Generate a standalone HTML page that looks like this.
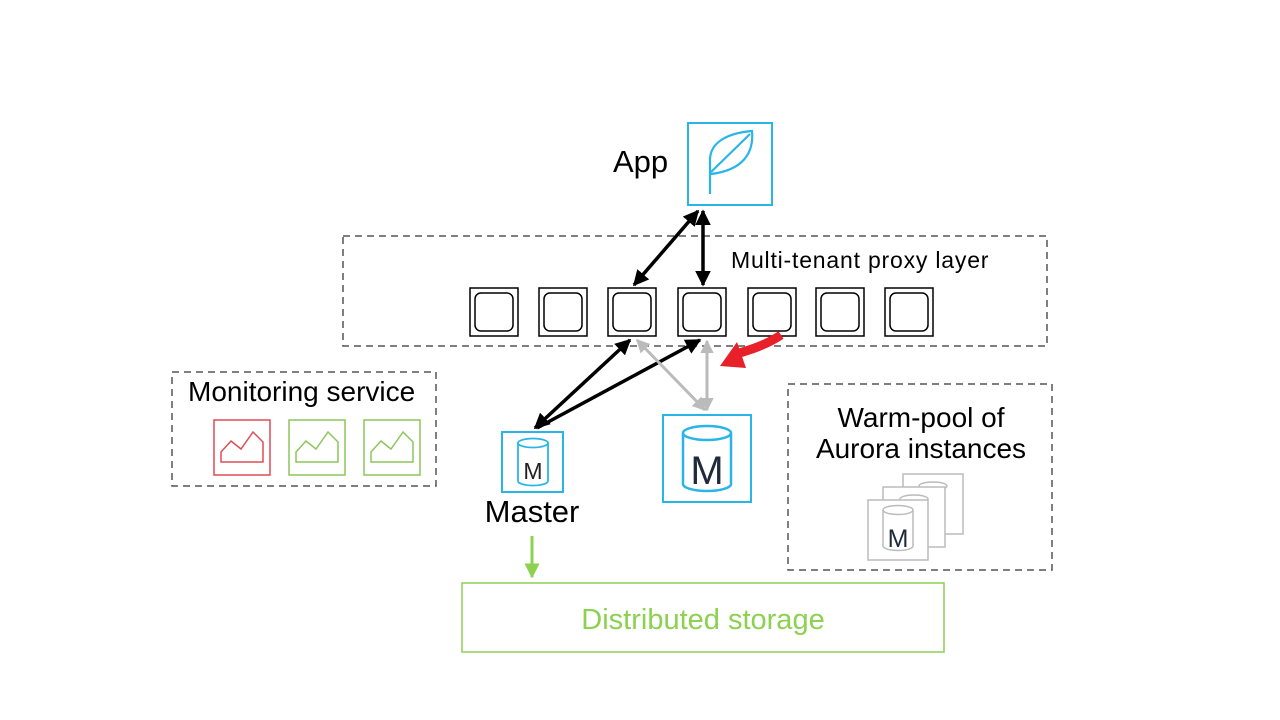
<!DOCTYPE html>
<html><head><meta charset="utf-8"><style>html,body{margin:0;padding:0;background:#fff;}svg{display:block}</style></head>
<body>
<svg width="1280" height="720" viewBox="0 0 1280 720" xmlns="http://www.w3.org/2000/svg" font-family="Liberation Sans, Arial, sans-serif">
<defs>
<marker id="ab" viewBox="0 0 10 10" refX="9" refY="5" markerWidth="4.5" markerHeight="4.5" orient="auto-start-reverse"><path d="M0,0 L10,5 L0,10 z" fill="#000"/></marker>
<marker id="ag" viewBox="0 0 10 10" refX="9" refY="5" markerWidth="4.5" markerHeight="4.5" orient="auto-start-reverse"><path d="M0,0 L10,5 L0,10 z" fill="#bbb"/></marker>
<marker id="agr" viewBox="0 0 10 10" refX="9" refY="5" markerWidth="5" markerHeight="5" orient="auto"><path d="M0,0 L10,5 L0,10 z" fill="#8cd150"/></marker>
</defs>
<rect width="1280" height="720" fill="#fff"/>
<!-- App -->
<text x="613" y="172" font-size="31" fill="#000">App</text>
<rect x="688" y="123" width="84" height="82" fill="none" stroke="#29b6e6" stroke-width="2"/>
<path d="M710,194 L710,160 C710,142 728,133 752,131 C754,152 744,170 711,174 M711,172 L750,134" fill="none" stroke="#29b6e6" stroke-width="2.2"/>
<!-- proxy layer -->
<rect x="343" y="236" width="704" height="110" fill="none" stroke="#555" stroke-width="1.5" stroke-dasharray="7,5"/>
<text x="731" y="268" font-size="23" letter-spacing="0.8" fill="#000">Multi-tenant proxy layer</text>
<g fill="none" stroke="#000" stroke-width="1.5">
<rect x="470" y="288" width="48" height="48"/><rect x="475" y="293" width="38" height="38" rx="6"/>
<rect x="539" y="288" width="48" height="48"/><rect x="544" y="293" width="38" height="38" rx="6"/>
<rect x="608" y="288" width="48" height="48"/><rect x="613" y="293" width="38" height="38" rx="6"/>
<rect x="678" y="288" width="48" height="48"/><rect x="683" y="293" width="38" height="38" rx="6"/>
<rect x="748" y="288" width="48" height="48"/><rect x="753" y="293" width="38" height="38" rx="6"/>
<rect x="816" y="288" width="48" height="48"/><rect x="821" y="293" width="38" height="38" rx="6"/>
<rect x="885" y="288" width="48" height="48"/><rect x="890" y="293" width="38" height="38" rx="6"/>
</g>
<!-- arrows -->
<g stroke="#000" stroke-width="3.5" fill="none">
<line x1="698" y1="211" x2="634" y2="285" marker-start="url(#ab)" marker-end="url(#ab)"/>
<line x1="703" y1="211" x2="703" y2="285" marker-start="url(#ab)" marker-end="url(#ab)"/>
<line x1="535" y1="428" x2="630" y2="340" marker-start="url(#ab)" marker-end="url(#ab)"/>
<line x1="537" y1="428" x2="700" y2="340" marker-end="url(#ab)"/>
</g>
<g stroke="#bbb" stroke-width="3" fill="none">
<line x1="705" y1="410" x2="637" y2="340" marker-start="url(#ag)" marker-end="url(#ag)"/>
<line x1="707" y1="410" x2="707" y2="341" marker-start="url(#ag)" marker-end="url(#ag)"/>
</g>
<path d="M781,335 C766,345 750,350 736,354" stroke="#e8202a" stroke-width="9" fill="none"/>
<path d="M720,366 L737,342 L746,368 z" fill="#e8202a"/>
<!-- master -->
<rect x="502" y="432" width="61" height="60" fill="none" stroke="#29b6e6" stroke-width="2"/>
<g fill="none" stroke="#29b6e6" stroke-width="1.8"><ellipse cx="533" cy="443" rx="15" ry="4.5"/><path d="M518,443 V481 A15,4.5 0 0 0 548,481 V443"/></g>
<text x="533" y="479" font-size="23" text-anchor="middle" fill="#222">M</text>
<text x="532" y="522" font-size="31" text-anchor="middle" fill="#000">Master</text>
<!-- big M -->
<rect x="663" y="415" width="88" height="87" fill="none" stroke="#29b6e6" stroke-width="2"/>
<g fill="none" stroke="#29b6e6" stroke-width="2.5"><ellipse cx="707" cy="433" rx="24" ry="7"/><path d="M683,433 V484 A24,7 0 0 0 731,484 V433"/></g>
<text x="707" y="484" font-size="40" text-anchor="middle" fill="#1f2a3a">M</text>
<!-- monitoring -->
<rect x="172" y="372" width="264" height="114" fill="none" stroke="#555" stroke-width="1.5" stroke-dasharray="7,5"/>
<text x="188" y="401" font-size="28" fill="#000">Monitoring service</text>
<rect x="214" y="420" width="56" height="55" fill="none" stroke="#e04b55" stroke-width="1.5"/>
<path d="M221,462 V452 L231,441 L241,449 L253,432 L263,442 V462 Z" fill="none" stroke="#e04b55" stroke-width="1.5"/>
<rect x="289" y="420" width="56" height="55" fill="none" stroke="#8cc65a" stroke-width="1.5"/>
<path d="M296,462 V452 L306,441 L316,449 L328,432 L338,442 V462 Z" fill="none" stroke="#8cc65a" stroke-width="1.5"/>
<rect x="364" y="420" width="56" height="55" fill="none" stroke="#8cc65a" stroke-width="1.5"/>
<path d="M371,462 V452 L381,441 L391,449 L403,432 L413,442 V462 Z" fill="none" stroke="#8cc65a" stroke-width="1.5"/>
<!-- warm pool -->
<rect x="788" y="384" width="264" height="186" fill="none" stroke="#555" stroke-width="1.5" stroke-dasharray="7,5"/>
<text x="921" y="427" font-size="28" text-anchor="middle" fill="#000">Warm-pool of</text>
<text x="921" y="458" font-size="28" text-anchor="middle" fill="#000">Aurora instances</text>
<g fill="#fff" stroke="#bbb" stroke-width="1.5">
<rect x="903" y="474" width="60" height="60"/>
<ellipse cx="933" cy="486" rx="14" ry="4"/>
<rect x="883" y="487" width="62" height="60"/>
<ellipse cx="914" cy="499" rx="14" ry="4"/>
<rect x="868" y="500" width="60" height="60"/>
<path d="M883,510 V546 A15,4.5 0 0 0 913,546 V510"/>
<ellipse cx="898" cy="510" rx="15" ry="4.5"/>
</g>
<text x="898" y="547" font-size="25" text-anchor="middle" fill="#1f2a3a">M</text>
<!-- storage -->
<line x1="532" y1="536" x2="532" y2="577" stroke="#8cd150" stroke-width="3" marker-end="url(#agr)"/>
<rect x="462" y="583" width="482" height="69" fill="none" stroke="#8cd150" stroke-width="1.5"/>
<text x="703" y="629" font-size="29" text-anchor="middle" fill="#8cd150">Distributed storage</text>
</svg>
</body></html>
